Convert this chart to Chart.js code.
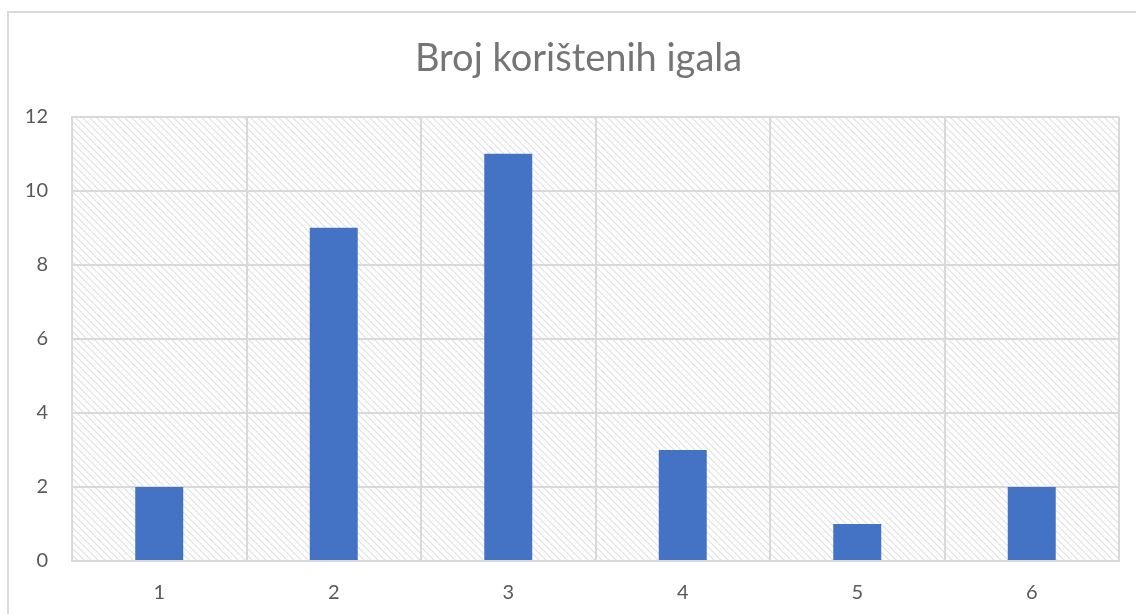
<!DOCTYPE html>
<html>
<head>
<meta charset="utf-8">
<script src="https://cdn.jsdelivr.net/npm/chart.js@4/dist/chart.umd.min.js"></script>
<style>
  html, body { margin: 0; padding: 0; background: #ffffff; overflow: hidden; }
  #wrap { position: relative; width: 1136px; height: 614px; }
  #frame { position: absolute; left: 7px; top: 11px; width: 1200px; height: 700px; border: 2px solid #d9d9d9; box-sizing: border-box; pointer-events: none; }
  canvas { position: absolute; left: 0; top: 0; }
</style>
</head>
<body>
<div id="wrap">
  <div id="frame"></div>
  <canvas id="c" width="1136" height="614"></canvas>
</div>
<script>
const chartTitle = "Broj korištenih igala";
const categories = ["1", "2", "3", "4", "5", "6"];
const counts = [2, 9, 11, 3, 1, 2];
const yTicks = [0, 2, 4, 6, 8, 10, 12];

function makeHatch() {
  const s = 7;
  const p = document.createElement('canvas');
  p.width = s; p.height = s;
  const g = p.getContext('2d');
  g.fillStyle = '#ffffff';
  g.fillRect(0, 0, s, s);
  g.strokeStyle = '#e0e0e0';
  g.lineWidth = 1.2;
  g.beginPath();
  g.moveTo(-1, -1); g.lineTo(s + 1, s + 1);
  g.moveTo(-1, s - 1); g.lineTo(1, s + 1);
  g.moveTo(s - 1, -1); g.lineTo(s + 1, 1);
  g.stroke();
  return p;
}

const hatchPlugin = {
  id: 'hatchBg',
  afterLayout(chart) {
    // centre the title on the outer chart frame rather than on the plot
    if (chart.titleBlock) {
      chart.titleBlock.left += 19;
      chart.titleBlock.right += 19;
    }
  },
  beforeDraw(chart) {
    const ctx = chart.ctx;
    const a = chart.chartArea;
    ctx.save();
    ctx.fillStyle = ctx.createPattern(makeHatch(), 'repeat');
    ctx.fillRect(a.left, a.top, a.right - a.left, a.bottom - a.top);
    ctx.restore();
  }
};

const fontFam = "Lato, 'Open Sans', sans-serif";

new Chart(document.getElementById('c'), {
  type: 'bar',
  data: {
    labels: categories,
    datasets: [{
      data: counts,
      backgroundColor: '#4472C4',
      borderWidth: 0,
      barPercentage: 0.275,
      categoryPercentage: 1.0
    }]
  },
  options: {
    responsive: false,
    animation: false,
    devicePixelRatio: 1,
    layout: { padding: { left: 0, right: 17, top: 0, bottom: 0 } },
    plugins: {
      legend: { display: false },
      tooltip: { enabled: false },
      title: {
        display: true,
        text: chartTitle,
        color: '#757575',
        font: { family: fontFam, size: 38, weight: 'normal' },
        padding: { top: 36, bottom: 35 }
      }
    },
    scales: {
      x: {
        grid: { color: '#d9d9d9', lineWidth: 2, drawTicks: false, offset: true },
        border: { color: '#d9d9d9', width: 2 },
        ticks: { color: '#595959', font: { family: fontFam, size: 20 }, padding: 20 },
        afterFit(scale) { scale.height = 53; }
      },
      y: {
        min: 0,
        max: 12,
        afterBuildTicks(scale) { scale.ticks = yTicks.map(v => ({ value: v })); },
        grid: { color: '#d9d9d9', lineWidth: 2, drawTicks: false },
        border: { color: '#d9d9d9', width: 2 },
        ticks: { color: '#595959', font: { family: fontFam, size: 20 }, padding: 24 },
        afterFit(scale) { scale.width = 72; }
      }
    }
  },
  plugins: [hatchPlugin]
});
</script>
</body>
</html>
